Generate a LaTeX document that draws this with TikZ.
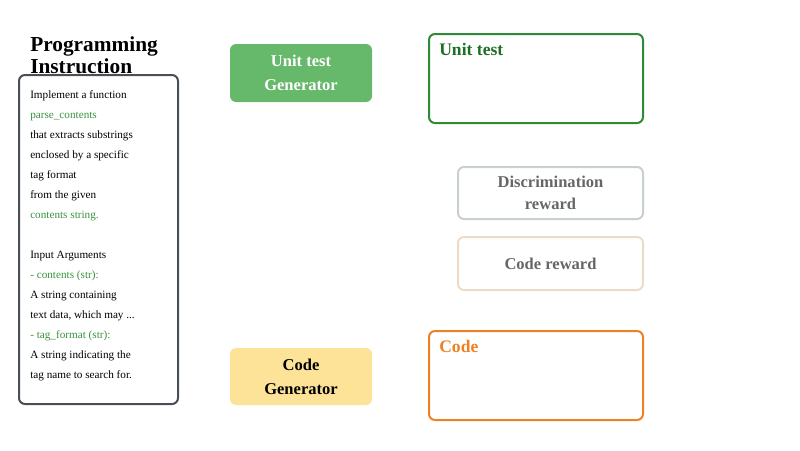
\documentclass[tikz,border=0pt]{standalone}
\usepackage{fontspec}
\setmainfont{Liberation Serif}
\usepackage{tikz}
\usetikzlibrary{positioning}
\definecolor{instrBorderCol}{RGB}{74, 79, 85}
\definecolor{instrGreenCol}{RGB}{56, 146, 60}
\definecolor{utFillCol}{RGB}{102, 184, 106}
\definecolor{utBorderCol}{RGB}{46, 139, 53}
\definecolor{utTextCol}{RGB}{30, 112, 36}
\definecolor{discBorderCol}{RGB}{200, 208, 204}
\definecolor{rewardTextCol}{RGB}{102, 102, 102}
\definecolor{codeRewBorderCol}{RGB}{236, 220, 197}
\definecolor{cgFillCol}{RGB}{253, 227, 151}
\definecolor{codeOrangeCol}{RGB}{238, 129, 38}
\tikzset{myBox/.style={rounded corners=4.5pt, inner sep=0pt, align=center}}
\tikzset{myGenBox/.style={myBox, minimum width=106.5pt, font=\fontsize{12.4}{18}\selectfont\bfseries}}
\tikzset{myOutBox/.style={myBox, line width=1.5pt, minimum width=160.5pt, minimum height=66.75pt}}
\tikzset{myRewBox/.style={myBox, line width=1.5pt, minimum width=138.75pt, text=rewardTextCol, font=\fontsize{12.4}{16.5}\selectfont\bfseries}}
\tikzset{myInstrLine/.style={anchor=base west, inner sep=0pt, font=\fontsize{8.4}{10}\selectfont}}
\tikzset{myOutLabel/.style={anchor=base west, inner sep=0pt, font=\fontsize{13.2}{15}\selectfont\bfseries}}

\begin{document}
\begin{tikzpicture}[x=0.75pt,y=-0.75pt]
        \useasboundingbox (0,0) rectangle (800,450);
		% instruction column
		\node[anchor=north west, inner sep=0pt, align=left, font=\fontsize{16}{16.5}\selectfont\bfseries](instrTitle) at (30,36) {Programming\\Instruction};
		\node[myBox, draw=instrBorderCol, line width=1.5pt, minimum width=119.25pt, minimum height=246.75pt](instrBox) at (98.5,239.5) {};
		\foreach \yy/\col/\txt [count=\i] in {98/black/Implement a function, 118/instrGreenCol/parse\_contents, 138/black/that extracts substrings, 158/black/enclosed by a specific, 178/black/tag format, 198/black/from the given, 218/instrGreenCol/contents string., 258/black/Input Arguments, 278/instrGreenCol/- contents (str):, 298/black/A string containing, 318/black/{text data, which may ...}, 338/instrGreenCol/- tag\_format (str):, 358/black/A string indicating the, 378/black/tag name to search for.}
			\node[myInstrLine, text=\col](instrLine\i) at (30,\yy) {\txt};
		
		% generators
		\node[myGenBox, fill=utFillCol, text=white, minimum height=43.5pt](utGen) at (301,73) {Unit test\\Generator};
		\node[myGenBox, fill=cgFillCol, text=black, minimum height=42.75pt](cgGen) at (301,376.5) {Code\\Generator};
		
		% outputs
		\node[myOutBox, draw=utBorderCol](utBox) at (536,78.5) {};
		\node[myOutLabel, text=utTextCol](utLabel) at (439,55) {Unit test};
		\node[myOutBox, draw=codeOrangeCol](codeBox) at (536,375.5) {};
		\node[myOutLabel, text=codeOrangeCol](codeLabel) at (439,352) {Code};
		
		% rewards
		\node[myRewBox, draw=discBorderCol, minimum height=39pt](discRew) at (550.5,193) {Discrimination\\reward};
		\node[myRewBox, draw=codeRewBorderCol, minimum height=39.75pt](codeRew) at (550.5,263.5) {Code reward};
		
	\end{tikzpicture}
\end{document}
